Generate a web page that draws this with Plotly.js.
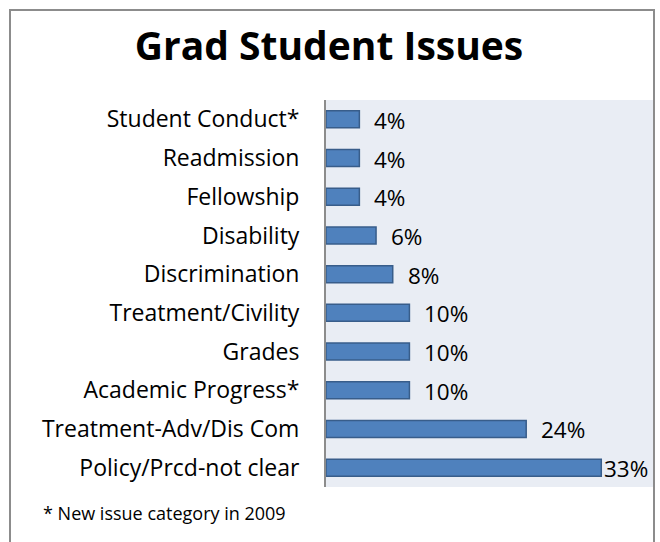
<!DOCTYPE html>
<html>
<head>
<meta charset="utf-8">
<script src="https://cdn.plot.ly/plotly-3.0.1.min.js"></script>
<style>
  html, body { margin: 0; padding: 0; background: #ffffff; }
  #wrap { position: relative; width: 660px; height: 542px; overflow: hidden; }
  #frame { position: absolute; left: 9px; top: 9px; width: 646px; height: 560px;
           border: 2px solid #8c8c8c; box-sizing: border-box; pointer-events: none; }
  #chart { position: absolute; left: 0; top: 0; width: 660px; height: 542px; }
</style>
</head>
<body>
<div id="wrap">
  <div id="chart"></div>
  <div id="frame"></div>
</div>
<script>
const categories = [
  "Student Conduct*",
  "Readmission",
  "Fellowship",
  "Disability",
  "Discrimination",
  "Treatment/Civility",
  "Grades",
  "Academic Progress*",
  "Treatment-Adv/Dis Com",
  "Policy/Prcd-not clear"
];
const values = [0.04, 0.04, 0.04, 0.06, 0.08, 0.10, 0.10, 0.10, 0.24, 0.33];
const valueLabels = ["4%", "4%", "4%", "6%", "8%", "10%", "10%", "10%", "24%", "33%"];
const titleText = "Grad Student Issues";
const footnote = "* New issue category in 2009";

const FONT = "'Open Sans', Lato, sans-serif";
const xMax = 0.392;

// plot area geometry (px) used to place the footnote in paper coords
const PL = 326, PR = 653, PT = 100, PB = 487;

const annotations = categories.map((c, i) => ({
  x: values[i], y: c, xref: 'x', yref: 'y',
  text: valueLabels[i], showarrow: false,
  xanchor: 'left', yanchor: 'middle',
  xshift: values[i] > 0.3 ? 1 : 13, yshift: -1,
  font: { family: FONT, size: 22.5, color: '#000000' }
}));
annotations.push({
  x: (41 - PL) / (PR - PL), y: (PB - 513) / (PB - PT), xref: 'paper', yref: 'paper',
  text: footnote, showarrow: false, xanchor: 'left', yanchor: 'middle',
  font: { family: FONT, size: 18, color: '#000000' }
});

const trace = {
  type: 'bar', orientation: 'h',
  x: values, y: categories,
  marker: { color: '#4F81BD', line: { color: '#385D8A', width: 1.5 } },
  hoverinfo: 'none', cliponaxis: false
};

const layout = {
  width: 660, height: 542,
  margin: { l: PL, r: 660 - PR, t: PT, b: 542 - PB, pad: 0 },
  paper_bgcolor: 'rgba(0,0,0,0)',
  plot_bgcolor: '#E9EDF4',
  showlegend: false,
  bargap: 0.56,
  title: {
    text: '<b>' + titleText + '</b>',
    x: 329 / 660, xanchor: 'center', xref: 'container',
    y: 1 - 46 / 542, yanchor: 'middle', yref: 'container',
    font: { family: FONT, size: 39, color: '#000000' }
  },
  xaxis: {
    range: [0, xMax], showgrid: false, zeroline: false,
    showticklabels: false, ticks: '', showline: false, fixedrange: true
  },
  yaxis: {
    autorange: 'reversed', type: 'category',
    showgrid: false, zeroline: false, showline: true,
    linecolor: '#8c8c8c', linewidth: 2, ticks: '',
    ticklabelstandoff: 20,
    tickfont: { family: FONT, size: 23, color: '#000000' }
  },
  annotations: annotations
};

Plotly.newPlot('chart', [trace], layout, { displayModeBar: false, staticPlot: true });
</script>
</body>
</html>
